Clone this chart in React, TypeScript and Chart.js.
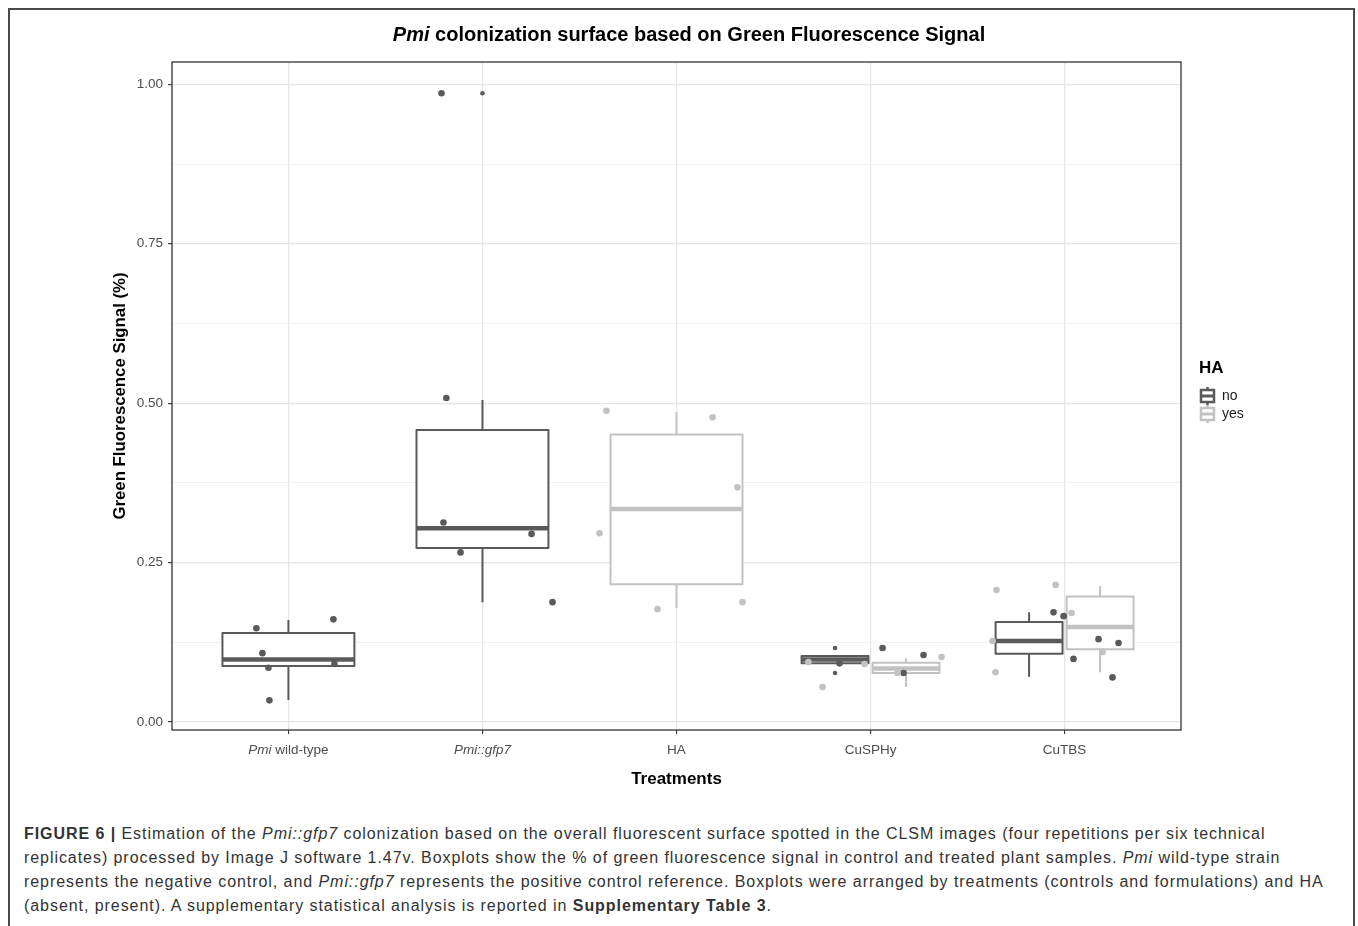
import React, { useEffect, useRef } from 'react';
import { Chart, registerables } from 'chart.js';

Chart.register(...registerables);

// ---------- data ----------
const categories = ['Pmi wild-type', 'Pmi::gfp7', 'HA', 'CuSPHy', 'CuTBS'];
const categoryItalicPart = ['Pmi', 'Pmi::gfp7', '', '', ''];
const groups = ['no', 'yes'];

const yTickValues = [0, 0.125, 0.25, 0.375, 0.5, 0.625, 0.75, 0.875, 1.0];
const yMajorTicks = [0, 0.25, 0.5, 0.75, 1.0];

// boxplot summaries (one per treatment x HA group present)
const boxCategory = [0, 1, 2, 3, 3, 4, 4];
const boxGroup = ['no', 'no', 'yes', 'no', 'yes', 'no', 'yes'];
const boxWhiskerLow = [0.0345, 0.188, 0.179, 0.092, 0.055, 0.071, 0.078];
const boxQ1 = [0.088, 0.273, 0.216, 0.092, 0.077, 0.107, 0.114];
const boxMedian = [0.098, 0.304, 0.334, 0.098, 0.084, 0.127, 0.149];
const boxQ3 = [0.1395, 0.458, 0.451, 0.1035, 0.093, 0.157, 0.197];
const boxWhiskerHigh = [0.16, 0.505, 0.486, 0.104, 0.1, 0.172, 0.213];

// boxplot outliers (drawn at box centre)
const outlierBox = [1, 3, 3];
const outlierValue = [0.986, 0.116, 0.077];

// jittered observations, HA = no
const noCategory = [0, 0, 0, 0, 0, 0, 1, 1, 1, 1, 1, 1, 3, 3, 3, 3, 4, 4, 4, 4, 4, 4];
const noJitter = [-0.165, 0.232, -0.134, -0.103, 0.237, -0.098, -0.211, -0.186, -0.201, -0.113, 0.253, 0.361, -0.16, 0.062, 0.273, 0.17, -0.057, -0.005, 0.175, 0.278, 0.046, 0.247];
const noValue = [0.147, 0.161, 0.108, 0.085, 0.091, 0.034, 0.986, 0.508, 0.313, 0.266, 0.295, 0.188, 0.092, 0.116, 0.105, 0.077, 0.172, 0.166, 0.13, 0.124, 0.099, 0.07];

// jittered observations, HA = yes
const yesCategory = [2, 2, 2, 2, 2, 2, 3, 3, 3, 3, 3, 4, 4, 4, 4, 4, 4];
const yesJitter = [-0.361, 0.186, 0.314, -0.397, -0.098, 0.34, -0.32, -0.031, -0.247, 0.366, 0.139, -0.351, -0.046, 0.036, -0.371, -0.356, 0.196];
const yesValue = [0.488, 0.478, 0.368, 0.296, 0.177, 0.188, 0.094, 0.091, 0.055, 0.102, 0.077, 0.207, 0.215, 0.171, 0.127, 0.078, 0.11];

// ---------- styles ----------
const FONT = '"Liberation Sans", Arial, Helvetica, sans-serif';
const DARK = '#5a5a5a';
const LIGHT = '#c2c2c2';
const groupColor: Record<string, string> = { no: DARK, yes: LIGHT };

type Run = { t: string; italic?: boolean };

function drawRuns(ctx: CanvasRenderingContext2D, runs: Run[], x: number, y: number, size: number, bold: boolean, align: 'center' | 'left') {
  const w = runs.map((r) => {
    ctx.font = `${r.italic ? 'italic ' : ''}${bold ? 'bold ' : ''}${size}px ${FONT}`;
    return ctx.measureText(r.t).width;
  });
  const total = w.reduce((a, b) => a + b, 0);
  let cx = align === 'center' ? x - total / 2 : x;
  ctx.textAlign = 'left';
  ctx.textBaseline = 'middle';
  runs.forEach((r, i) => {
    ctx.font = `${r.italic ? 'italic ' : ''}${bold ? 'bold ' : ''}${size}px ${FONT}`;
    ctx.fillText(r.t, cx, y);
    cx += w[i];
  });
}

function boxGeometry(i: number) {
  const cat = boxCategory[i];
  const inCat = boxCategory.map((c, k) => (c === cat ? k : -1)).filter((k) => k >= 0);
  if (inCat.length > 1) {
    const slot = inCat.indexOf(i);
    const off = slot === 0 ? -0.183 : 0.183;
    return { center: cat + 1 + off, half: 0.1725 };
  }
  return { center: cat + 1, half: 0.34 };
}

const boxPlugin = {
  id: 'boxes',
  beforeDatasetsDraw(chart: any) {
    const ctx: CanvasRenderingContext2D = chart.ctx;
    const xs = chart.scales.x;
    const ys = chart.scales.y;
    ctx.save();
    for (let i = 0; i < boxCategory.length; i++) {
      const g = boxGeometry(i);
      const color = groupColor[boxGroup[i]];
      const xl = xs.getPixelForValue(g.center - g.half);
      const xr = xs.getPixelForValue(g.center + g.half);
      const xc = xs.getPixelForValue(g.center);
      const yq1 = ys.getPixelForValue(boxQ1[i]);
      const yq3 = ys.getPixelForValue(boxQ3[i]);
      const ymed = ys.getPixelForValue(boxMedian[i]);
      const ylo = ys.getPixelForValue(boxWhiskerLow[i]);
      const yhi = ys.getPixelForValue(boxWhiskerHigh[i]);
      ctx.strokeStyle = color;
      ctx.lineCap = 'butt';
      ctx.lineWidth = 2;
      ctx.beginPath();
      ctx.moveTo(xc, yq3);
      ctx.lineTo(xc, yhi);
      ctx.moveTo(xc, yq1);
      ctx.lineTo(xc, ylo);
      ctx.stroke();
      ctx.fillStyle = '#ffffff';
      ctx.fillRect(xl, yq3, xr - xl, yq1 - yq3);
      ctx.lineJoin = 'round';
      ctx.strokeRect(xl, yq3, xr - xl, yq1 - yq3);
      ctx.lineWidth = 4.5;
      ctx.beginPath();
      ctx.moveTo(xl, ymed);
      ctx.lineTo(xr, ymed);
      ctx.stroke();
    }
    ctx.restore();
  },
};

const decorPlugin = {
  id: 'decor',
  afterDraw(chart: any) {
    const ctx: CanvasRenderingContext2D = chart.ctx;
    const a = chart.chartArea;
    const xs = chart.scales.x;
    ctx.save();
    ctx.strokeStyle = '#333333';
    ctx.lineWidth = 1.3;
    ctx.strokeRect(a.left, a.top, a.right - a.left, a.bottom - a.top);

    ctx.fillStyle = '#000000';
    drawRuns(ctx, [{ t: 'Pmi', italic: true }, { t: ' colonization surface based on Green Fluorescence Signal' }], 689, 35, 20, true, 'center');

    ctx.fillStyle = '#4d4d4d';
    categories.forEach((c, i) => {
      const it = categoryItalicPart[i];
      const runs: Run[] = it ? [{ t: it, italic: true }, { t: c.slice(it.length) }].filter((r) => r.t.length > 0) : [{ t: c }];
      drawRuns(ctx, runs, xs.getPixelForValue(i + 1), 750, 13.5, false, 'center');
    });

    ctx.fillStyle = '#000000';
    drawRuns(ctx, [{ t: 'Treatments' }], (a.left + a.right) / 2, 779, 17, true, 'center');
    ctx.save();
    ctx.translate(120, (a.top + a.bottom) / 2);
    ctx.rotate(-Math.PI / 2);
    drawRuns(ctx, [{ t: 'Green Fluorescence Signal (%)' }], 0, 0, 16.8, true, 'center');
    ctx.restore();

    drawRuns(ctx, [{ t: 'HA' }], 1199, 368, 17, true, 'left');
    groups.forEach((g, k) => {
      const cy = 396 + k * 18;
      const color = groupColor[g];
      ctx.strokeStyle = color;
      ctx.lineWidth = 2.5;
      ctx.beginPath();
      ctx.moveTo(1207.5, cy - 9);
      ctx.lineTo(1207.5, cy - 6);
      ctx.moveTo(1207.5, cy + 6);
      ctx.lineTo(1207.5, cy + 9);
      ctx.stroke();
      ctx.strokeRect(1201, cy - 6, 13, 12);
      ctx.lineWidth = 3;
      ctx.beginPath();
      ctx.moveTo(1201, cy);
      ctx.lineTo(1214, cy);
      ctx.stroke();
      ctx.fillStyle = '#1a1a1a';
      drawRuns(ctx, [{ t: g }], 1222, cy, 14, false, 'left');
    });
    ctx.restore();
  },
};

export default function App() {
  const canvasRef = useRef<HTMLCanvasElement | null>(null);

  useEffect(() => {
    const canvas = canvasRef.current;
    if (!canvas) return;
    const yesPoints = yesValue.map((v, i) => ({ x: yesCategory[i] + 1 + yesJitter[i], y: v }));
    const noPoints = noValue.map((v, i) => ({ x: noCategory[i] + 1 + noJitter[i], y: v }));
    const outPoints = outlierValue.map((v, i) => ({ x: boxGeometry(outlierBox[i]).center, y: v }));
    const outColors = outlierBox.map((b) => groupColor[boxGroup[b]]);

    const chart = new Chart(canvas, {
      type: 'scatter',
      data: {
        datasets: [
          { label: 'outliers', data: outPoints, backgroundColor: outColors, borderWidth: 0, pointRadius: 2.3 },
          { label: 'yes', data: yesPoints, backgroundColor: LIGHT, borderWidth: 0, pointRadius: 3.3 },
          { label: 'no', data: noPoints, backgroundColor: DARK, borderWidth: 0, pointRadius: 3.3 },
        ],
      },
      options: {
        responsive: false,
        animation: false,
        events: [],
        layout: { padding: { left: 0, right: 177, top: 62, bottom: 70 } },
        plugins: { legend: { display: false }, tooltip: { enabled: false }, title: { display: false } },
        scales: {
          x: {
            type: 'linear',
            min: 0.4,
            max: 5.6,
            afterBuildTicks: (s: any) => {
              s.ticks = categories.map((_, i) => ({ value: i + 1 }));
            },
            afterFit: (s: any) => {
              s.height = 0;
            },
            ticks: { display: false },
            grid: { color: '#e6e6e6', lineWidth: 1.2, drawTicks: true, tickLength: 4, tickColor: '#333333', tickWidth: 1.1 },
            border: { display: false },
          },
          y: {
            type: 'linear',
            min: -0.0125,
            max: 1.035,
            afterBuildTicks: (s: any) => {
              s.ticks = yTickValues.map((v) => ({ value: v }));
            },
            afterFit: (s: any) => {
              s.width = 172;
            },
            ticks: {
              callback: (v: any) => (yMajorTicks.includes(Number(v)) ? Number(v).toFixed(2) : ''),
              color: '#4d4d4d',
              font: { size: 13.5, family: FONT },
              padding: 5,
            },
            grid: {
              color: (c: any) => (yMajorTicks.includes(c.tick?.value) ? '#e6e6e6' : '#efefef'),
              lineWidth: (c: any) => (yMajorTicks.includes(c.tick?.value) ? 1.2 : 0.8),
              tickColor: (c: any) => (yMajorTicks.includes(c.tick?.value) ? '#333333' : 'rgba(0,0,0,0)'),
              drawTicks: true,
              tickLength: 4,
              tickWidth: 1.1,
            },
            border: { display: false },
          },
        },
      },
      plugins: [boxPlugin, decorPlugin],
    });
    return () => chart.destroy();
  }, []);

  const capStyle: React.CSSProperties = {
    position: 'absolute',
    left: 24,
    top: 822,
    fontFamily: FONT,
    fontSize: 16,
    letterSpacing: '0.94px',
    lineHeight: '24px',
    color: '#333333',
    whiteSpace: 'nowrap',
  };

  return (
    <div style={{ position: 'absolute', left: 0, top: 0, width: 1358, height: 926, overflow: 'hidden', background: '#ffffff' }}>
      <div style={{ position: 'absolute', left: 8, top: 8, width: 1347, height: 940, border: '2px solid #4a4a4a', boxSizing: 'border-box' }} />
      <canvas ref={canvasRef} width={1358} height={800} style={{ position: 'absolute', left: 0, top: 0, display: 'block' }} />
      <div style={capStyle}>
        <div>
          <b>FIGURE 6 |</b> Estimation of the <i>Pmi::gfp7</i> colonization based on the overall fluorescent surface spotted in the CLSM images (four repetitions per six technical
        </div>
        <div>
          replicates) processed by Image J software 1.47v. Boxplots show the % of green fluorescence signal in control and treated plant samples. <i>Pmi</i> wild-type strain
        </div>
        <div>
          represents the negative control, and <i>Pmi::gfp7</i> represents the positive control reference. Boxplots were arranged by treatments (controls and formulations) and HA
        </div>
        <div>
          (absent, present). A supplementary statistical analysis is reported in <b>Supplementary Table 3</b>.
        </div>
      </div>
    </div>
  );
}
